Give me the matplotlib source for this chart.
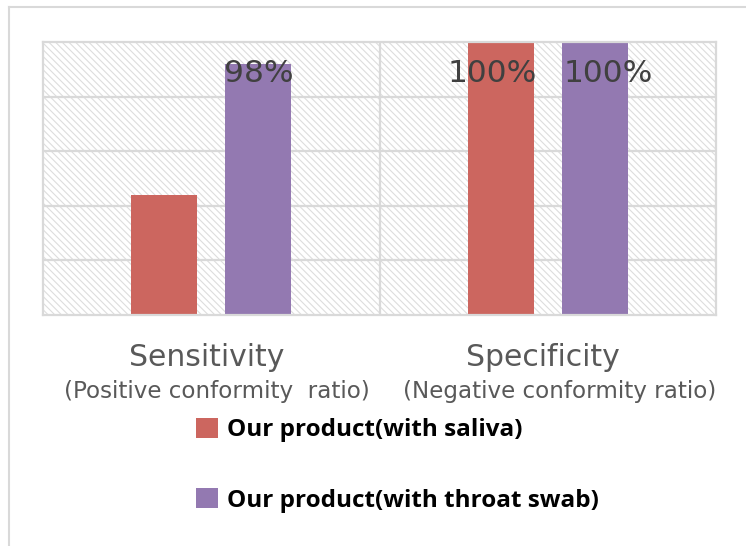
import matplotlib
matplotlib.use("Agg")
import matplotlib.pyplot as plt
from matplotlib.patches import Rectangle, Patch
from matplotlib.lines import Line2D
from matplotlib.font_manager import FontProperties
import numpy as np

categories = ["Sensitivity", "Specificity"]
subtitles = ["(Positive conformity  ratio)", "(Negative conformity ratio)"]
series_names = ["Our product(with saliva)", "Our product(with throat swab)"]
saliva = [86, 100]
throat = [98, 100]
labels_saliva = [None, "100%"]
labels_throat = ["98%", "100%"]
y_min, y_max, y_step = 75, 100, 5

colors = ["#CC665F", "#9379B1"]
grid_c = "#D9D9D9"
text_c = "#595959"
plt.rcParams['font.family'] = ["DejaVu Sans", "Noto Sans CJK JP"]
plt.rcParams['hatch.linewidth'] = 0.8

W, H = 746, 546
fig = plt.figure(figsize=(W/100, H/100), dpi=100)
# outer chart border (cropped at right/bottom)
fig.add_artist(Line2D([9/W, 1], [1-7/H, 1-7/H], color=grid_c, lw=1.5, transform=fig.transFigure))
fig.add_artist(Line2D([9/W, 9/W], [0, 1-7/H], color=grid_c, lw=1.5, transform=fig.transFigure))

ax = fig.add_axes([43/W, 1-315/H, (716-43)/W, (315-42)/H])
ax.set_xlim(-0.5, 1.5)
ax.set_ylim(y_min, y_max)
ax.add_patch(Rectangle((0, 0), 1, 1, transform=ax.transAxes, facecolor="white",
                       edgecolor="#DDDDDD", linewidth=0, hatch="\\\\\\\\\\", zorder=0))
for y in np.arange(y_min + y_step, y_max, y_step):
    ax.axhline(y, color=grid_c, lw=1.6, zorder=1)
ax.axvline(0.5, color=grid_c, lw=1.6, zorder=1)
for s in ax.spines.values():
    s.set_color(grid_c)
    s.set_linewidth(1.6)
ax.set_xticks([])
ax.set_yticks([])

x = np.arange(len(categories))
w = 0.196
off = 0.14
b1 = ax.bar(x - off, saliva, w, color=colors[0], zorder=2)
b2 = ax.bar(x + off, throat, w, color=colors[1], zorder=2)

# data labels: Excel places them at the same height, clamped inside the plot area
label_dx = [[0, -8], [0, 13]]  # px offsets from bar centre
for j, (bars, labs) in enumerate([(b1, labels_saliva), (b2, labels_throat)]):
    for i, (bar, lab) in enumerate(zip(bars, labs)):
        if lab is None:
            continue
        ax.annotate(lab, (bar.get_x() + bar.get_width()/2, 0.853),
                    xycoords=ax.get_xaxis_transform(),
                    xytext=(label_dx[j][i]*0.72, 0), textcoords="offset points",
                    ha="center", va="baseline", fontsize=22.5, color="#404040", zorder=3,
                    annotation_clip=False)

cat_dx = [-0.015, -0.015]
sub_dx = [0.018, 0.035]
for i, (c, s) in enumerate(zip(categories, subtitles)):
    ax.text(i + cat_dx[i], -0.187, c, transform=ax.get_xaxis_transform(), ha="center",
            va="baseline", fontsize=21.5, color=text_c)
    ax.text(i + sub_dx[i], -0.304, s, transform=ax.get_xaxis_transform(), ha="center",
            va="baseline", fontsize=16.6, color=text_c)

handles = [Patch(facecolor=colors[0], edgecolor="none"), Patch(facecolor=colors[1], edgecolor="none")]
leg_font = FontProperties(family=["Open Sans", "DejaVu Sans"], weight="bold", size=17.5)
fig.legend(handles, series_names, loc="upper left", bbox_to_anchor=(174/W, 1-396/H),
           frameon=False, prop=leg_font,
           handlelength=0.92, handleheight=0.92, handletextpad=0.35, labelspacing=1.87,
           labelcolor="black")

fig.savefig("out.png", dpi=100)
